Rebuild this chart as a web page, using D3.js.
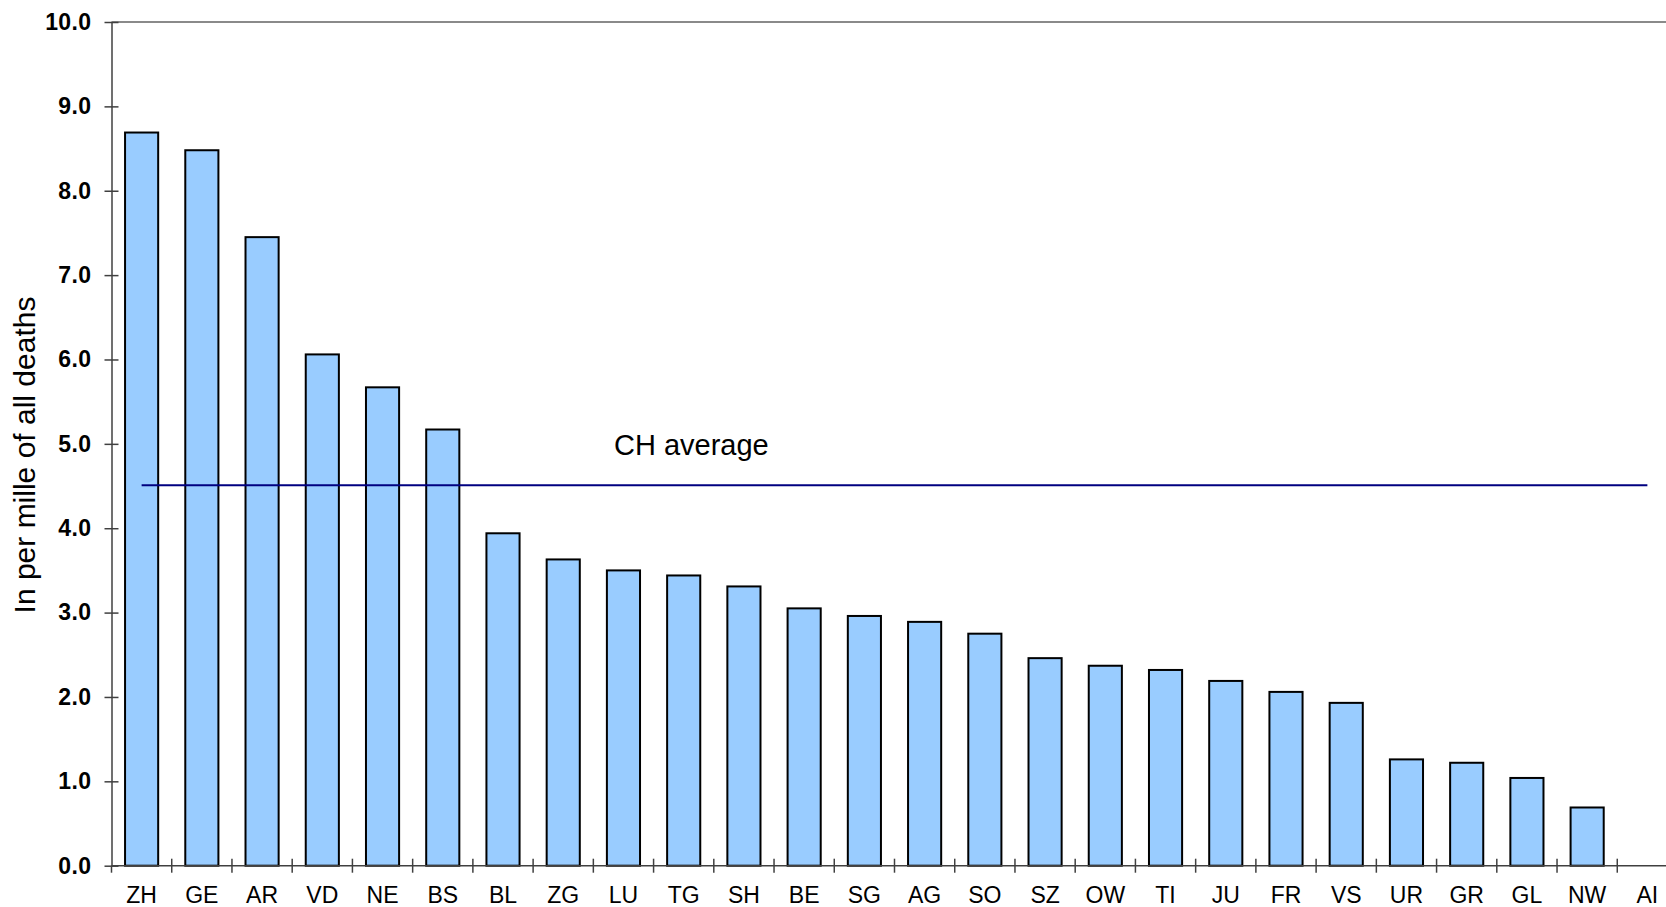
<!DOCTYPE html>
<html><head><meta charset="utf-8">
<script src="https://cdn.jsdelivr.net/npm/d3@7"></script>
<style>html,body{margin:0;padding:0;background:#fff;overflow:hidden}</style>
</head><body>
<svg id="c" width="1666" height="907"></svg>
<script>
const cantons = ["ZH","GE","AR","VD","NE","BS","BL","ZG","LU","TG","SH","BE","SG","AG","SO","SZ","OW","TI","JU","FR","VS","UR","GR","GL","NW","AI"];
const values = [8.69,8.48,7.45,6.06,5.67,5.17,3.94,3.63,3.50,3.44,3.31,3.05,2.96,2.89,2.75,2.46,2.37,2.32,2.19,2.06,1.93,1.26,1.22,1.04,0.69,0];
const chAverage = 4.51;
const yTicks = [0,1,2,3,4,5,6,7,8,9,10];
const yTitle = "In per mille of all deaths";
const avgLabel = "CH average";

(function () {
const svg = d3.select("#c");
const mLeft = 111.5, mRight = 1677.5, mTop = 22, mBottom = 865.7;
const FONT = "Liberation Sans, Arial, sans-serif";

const x = d3.scaleBand().domain(cantons).range([mLeft, mRight]).paddingInner(0.45).paddingOuter(0.225);
const y = d3.scaleLinear().domain([0, 10]).range([mBottom, mTop]);

// top border line
svg.append("line").attr("x1", mLeft).attr("x2", 1666).attr("y1", y(10)).attr("y2", y(10))
  .attr("stroke", "#8a8a8a").attr("stroke-width", 2);

// bars
svg.append("g").selectAll("rect").data(cantons).join("rect")
  .attr("x", d => x(d)).attr("width", x.bandwidth())
  .attr("y", (d, i) => y(values[i])).attr("height", (d, i) => y(0) - y(values[i]))
  .attr("fill", "#99ccff").attr("stroke", "#000").attr("stroke-width", 2)
  .attr("display", (d, i) => values[i] > 0 ? null : "none");

// y axis
const yAxis = d3.axisLeft(y).tickValues(yTicks).tickFormat(d3.format(".1f")).tickSizeInner(7).tickSizeOuter(0).tickPadding(13);
const gy = svg.append("g").attr("transform", `translate(${mLeft},0)`).call(yAxis);
gy.select(".domain").attr("stroke", "#404040").attr("stroke-width", 1.5);
gy.selectAll(".tick line").attr("stroke", "#404040").attr("stroke-width", 1.5).attr("x2", 7).attr("x1", -7);
gy.selectAll(".tick text").attr("font-family", FONT).attr("font-weight", "bold")
  .attr("font-size", 23).attr("letter-spacing", 0.4).attr("fill", "#000").attr("x", -20);

// x axis baseline
svg.append("line").attr("x1", mLeft).attr("x2", 1666).attr("y1", y(0)).attr("y2", y(0))
  .attr("stroke", "#404040").attr("stroke-width", 1.5);
// x ticks at slot boundaries
const bound = d => x(d) + x.bandwidth() / 2 - x.step() / 2;
svg.append("g").selectAll("line").data(cantons).join("line")
  .attr("x1", d => bound(d)).attr("x2", d => bound(d))
  .attr("y1", (d, i) => i === 0 ? y(0) : y(0) - 7).attr("y2", y(0) + 7)
  .attr("stroke", "#404040").attr("stroke-width", 1.5);
// x labels
svg.append("g").selectAll("text").data(cantons).join("text")
  .attr("x", d => x(d) + x.bandwidth() / 2).attr("y", 903)
  .attr("text-anchor", "middle").attr("font-family", FONT)
  .attr("font-size", 23).attr("fill", "#000").text(d => d);

// average line
svg.append("line")
  .attr("x1", x(cantons[0]) + x.bandwidth() / 2).attr("x2", x(cantons[cantons.length - 1]) + x.bandwidth() / 2)
  .attr("y1", y(chAverage)).attr("y2", y(chAverage))
  .attr("stroke", "#000080").attr("stroke-width", 2);
svg.append("text").attr("x", 614).attr("y", 455)
  .attr("font-family", FONT).attr("font-size", 29).attr("fill", "#000")
  .text(avgLabel);

// y title
svg.append("text").attr("transform", `translate(35,455) rotate(-90)`)
  .attr("text-anchor", "middle").attr("font-family", FONT)
  .attr("font-size", 30).attr("fill", "#000").text(yTitle);
})();
</script>
</body></html>
